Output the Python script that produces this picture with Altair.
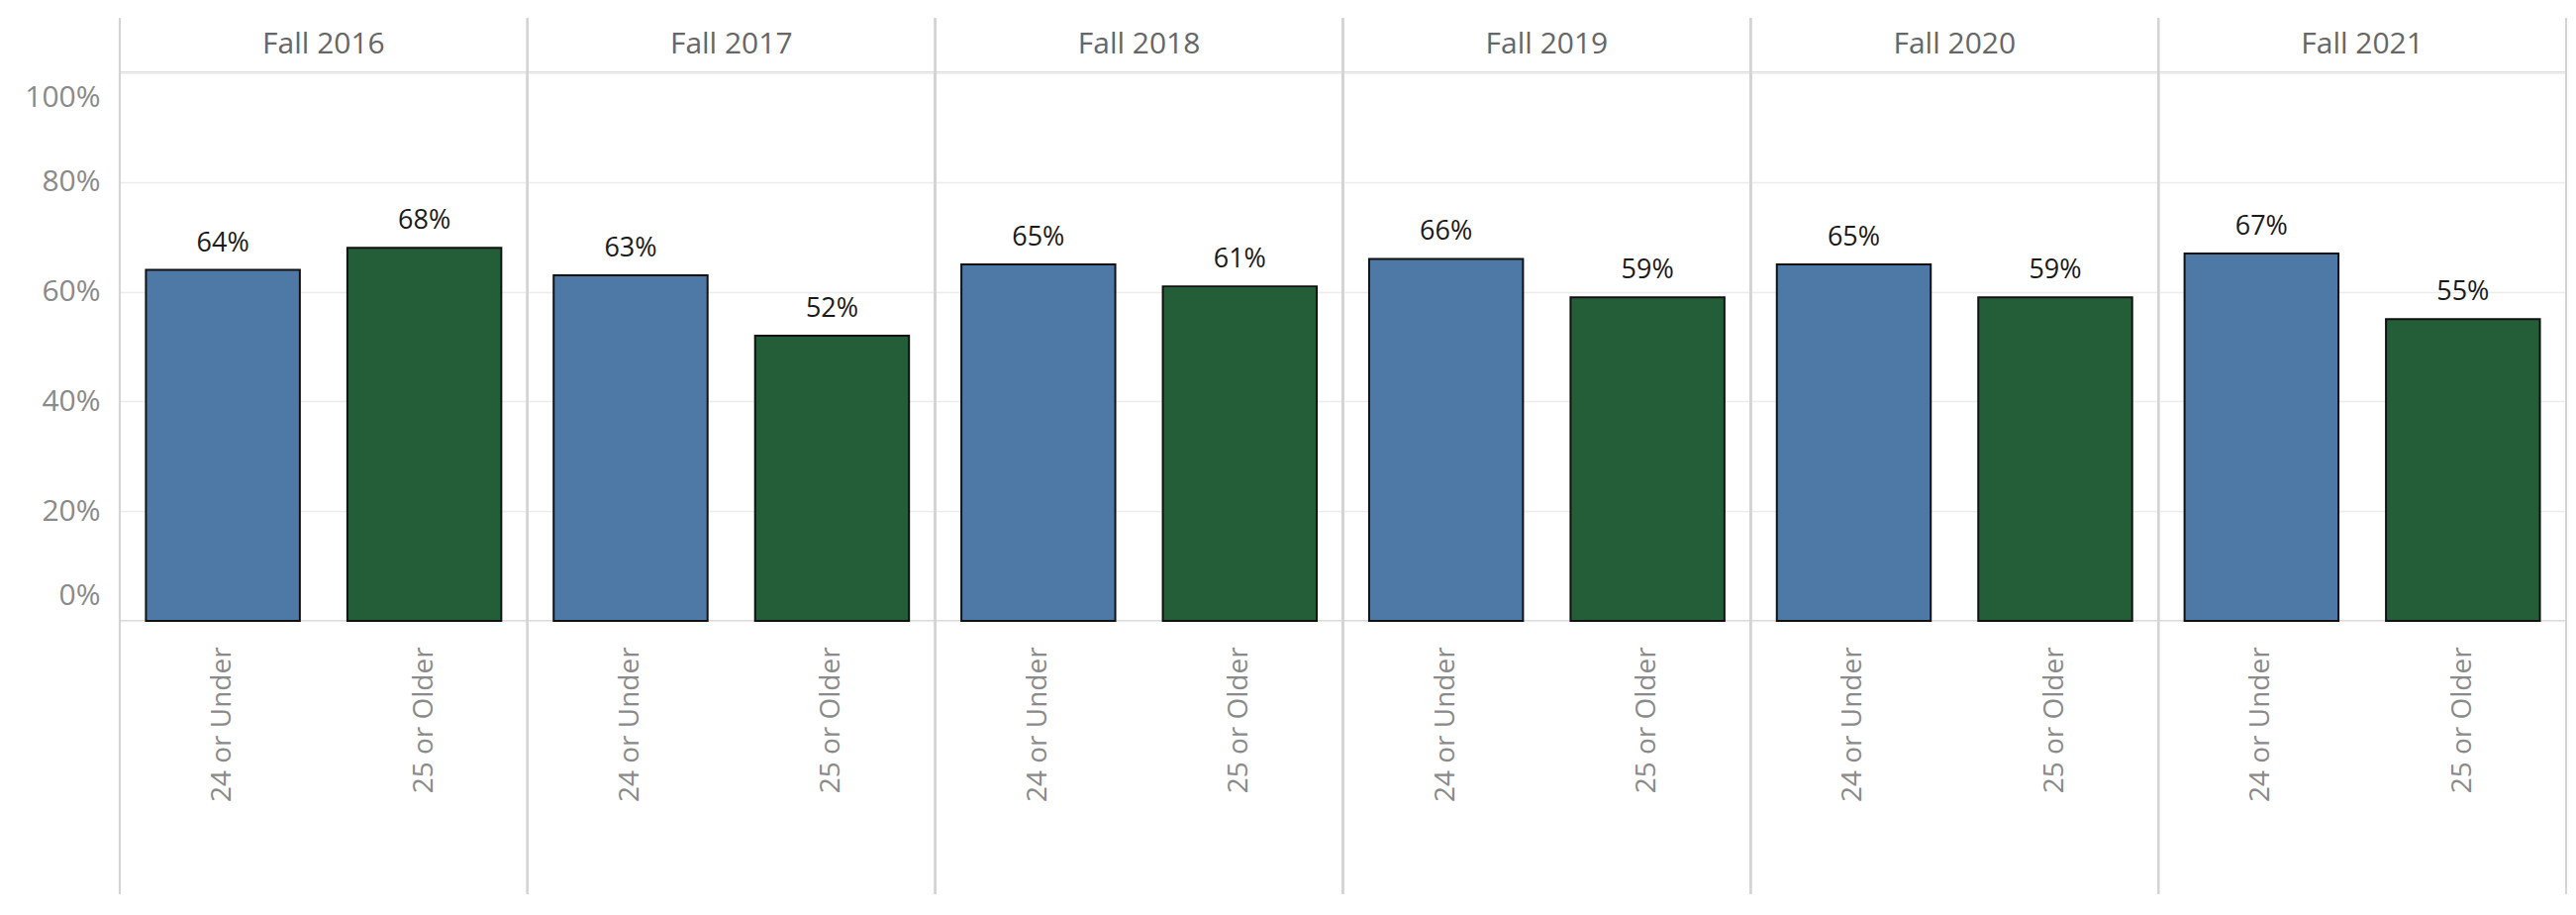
import altair as alt
import pandas as pd

years = ["Fall 2016", "Fall 2017", "Fall 2018", "Fall 2019", "Fall 2020", "Fall 2021"]
groups = ["24 or Under", "25 or Older"]
under24 = [64, 63, 65, 66, 65, 67]
over25 = [68, 52, 61, 59, 59, 55]
y_ticks = [0, 0.2, 0.4, 0.6, 0.8, 1.0]
colors = ["#4e79a7", "#245e39"]

rows = []
for i, yr in enumerate(years):
    rows.append({"year": yr, "group": groups[0], "value": under24[i] / 100})
    rows.append({"year": yr, "group": groups[1], "value": over25[i] / 100})
df = pd.DataFrame(rows)

W = 412
H = 554
FONT = "Open Sans"

base = alt.Chart().encode(
    x=alt.X(
        "group:N",
        sort=groups,
        scale=alt.Scale(paddingInner=0.236, paddingOuter=0.13),
        axis=alt.Axis(
            title=None, labelAngle=-90, labelFontSize=28, labelColor="#8a8a8a",
            labelFont=FONT, labelPadding=26, ticks=False, domain=False,
        ),
    ),
    y=alt.Y(
        "value:Q",
        scale=alt.Scale(domain=[0, 1], nice=False),
        axis=alt.Axis(
            title=None, format=".0%", values=y_ticks, labelFontSize=30,
            labelColor="#8a8a8a", labelFont=FONT, ticks=False, domain=False,
            grid=True, gridColor="#ececec", gridWidth=1.5, labelFlush=True,
            labelFlushOffset=-10, labelPadding=20, minExtent=111, maxExtent=111,
        ),
    ),
)

bars = base.mark_bar(stroke="#111111", strokeWidth=2).encode(
    color=alt.Color("group:N", scale=alt.Scale(domain=groups, range=colors), legend=None)
)

labels = base.mark_text(baseline="bottom", dy=-13, fontSize=27, font=FONT, color="#1a1a1a").encode(
    text=alt.Text("value:Q", format=".0%")
)

rules = alt.Chart().mark_rule(color="#d4d4d4", strokeWidth=2).encode(
    x=alt.value(0), y=alt.value(-55), y2=alt.value(H + 276)
)
rules_r = alt.Chart().mark_rule(color="#d4d4d4", strokeWidth=2).encode(
    x=alt.value(W), y=alt.value(-55), y2=alt.value(H + 276)
)

layered = alt.layer(bars, labels, rules, rules_r).properties(width=W, height=H)

chart = layered.facet(
    data=df,
    column=alt.Column(
        "year:N", sort=years, title=None,
        header=alt.Header(labelFontSize=30, labelColor="#666666", labelFont=FONT, labelPadding=13),
    ),
    spacing=0,
).properties(
    bounds="flush",
    padding={"left": 2, "top": 8, "right": 0, "bottom": 0},
).configure_view(
    stroke="#d4d4d4", strokeWidth=2
)

chart.save("out.html", embed_options={"renderer": "svg", "actions": False})
